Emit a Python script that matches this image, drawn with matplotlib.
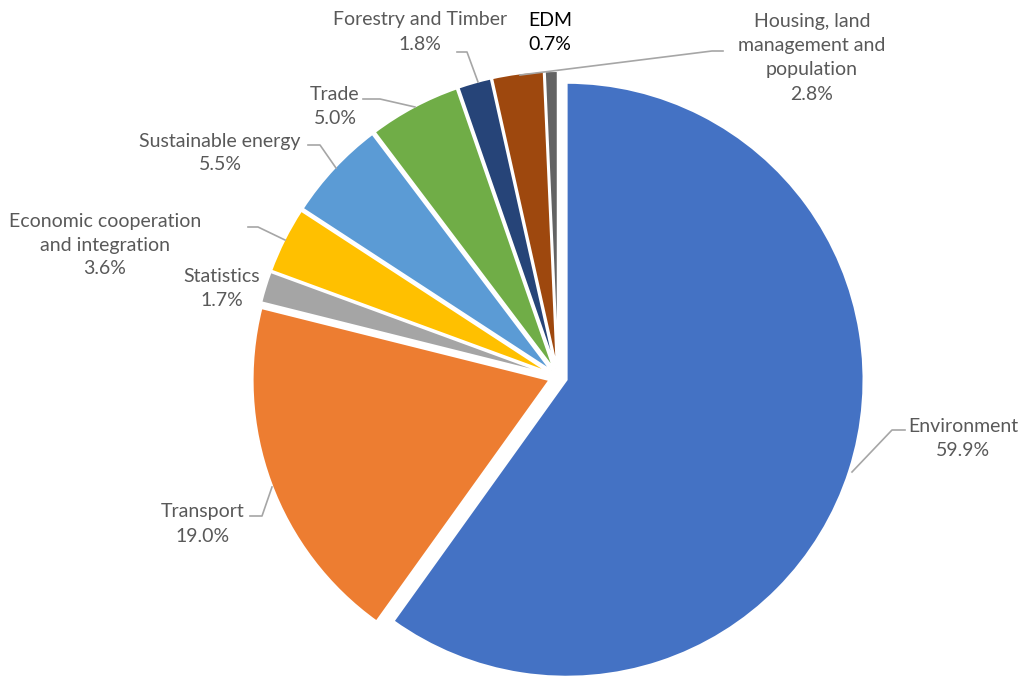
import matplotlib.pyplot as plt

# budget shares by sector, clockwise from 12 o'clock
sectors = ['Environment', 'Transport', 'Statistics',
           'Economic cooperation\nand integration', 'Sustainable energy',
           'Trade', 'Forestry and Timber', 'Housing, land\nmanagement and\npopulation',
           'EDM']
shares = [59.9, 19.0, 1.7, 3.6, 5.5, 5.0, 1.8, 2.8, 0.7]
colors = ['#4472C4', '#ED7D31', '#A5A5A5', '#FFC000', '#5B9BD5',
          '#70AD47', '#264478', '#9E480E', '#636363']

W, H = 1023, 680


def px(x, y):
    # image pixel coords (y down) -> axes data coords (y up)
    return x, H - y


fig = plt.figure(figsize=(W / 100, H / 100), dpi=100)
ax = fig.add_axes([0, 0, 1, 1])

# explode is in data units here (pixels), not a fraction of the radius
ax.pie(shares, colors=colors, startangle=90, counterclock=False,
       center=px(558, 377), radius=297, explode=[9] * len(shares),
       wedgeprops=dict(edgecolor='white', linewidth=1.5))

# pie() resets the limits, so set them afterwards
ax.set_xlim(0, W)
ax.set_ylim(0, H)
ax.set_aspect('equal')
ax.axis('off')

# label block centres and leader lines (pixel coords)
label_pos = [(963, 438), (203, 524), (222, 288), (105, 245), (220, 153),
             (335, 106), (420, 32), (812, 58), (550, 32)]
leaders = [
    [(905, 430), (892, 430), (852, 472)],
    [(250, 516), (262, 516), (272, 487)],
    None,
    [(248, 227), (258, 227), (285, 240)],
    [(308, 145), (320, 145), (336, 168)],
    [(363, 99), (380, 99), (415, 107)],
    [(457, 52), (467, 52), (478, 82)],
    [(723, 51), (712, 51), (520, 75)],
    None,
]

for name, val, pos, line in zip(sectors, shares, label_pos, leaders):
    col = 'black' if name == 'EDM' else '#595959'
    x, y = px(*pos)
    ax.text(x, y, f'{name}\n{val:.1f}%', ha='center', va='center',
            fontsize=14, color=col, family='Lato', linespacing=1.5)
    if line:
        xs, ys = zip(*[px(*p) for p in line])
        ax.plot(xs, ys, color='#A6A6A6', lw=1.2)

fig.savefig('out.png', dpi=100)
